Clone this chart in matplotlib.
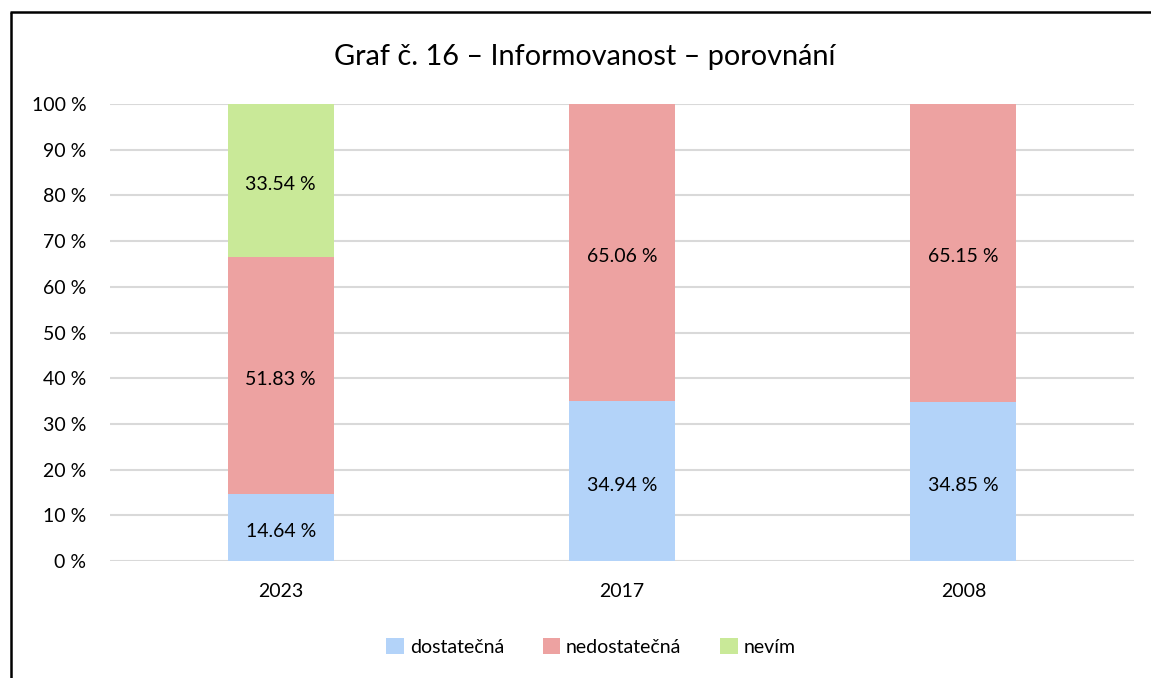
import matplotlib
matplotlib.use("Agg")
import matplotlib.pyplot as plt
from matplotlib.lines import Line2D
from matplotlib.patches import Patch
from matplotlib.transforms import offset_copy
import numpy as np

plt.rcParams['font.family'] = ['Lato', 'DejaVu Sans']

categories = ["2023", "2017", "2008"]
series_names = ["dostatečná", "nedostatečná", "nevím"]
dostatecna = [14.64, 34.94, 34.85]
nedostatecna = [51.83, 65.06, 65.15]
nevim = [33.54, 0.0, 0.0]
colors = ["#B3D3F9", "#EDA2A1", "#C9E998"]
title = "Graf č. 16 – Informovanost – porovnání"
yticks = [0, 10, 20, 30, 40, 50, 60, 70, 80, 90, 100]

W, H = 1151, 678
fig = plt.figure(figsize=(W / 100, H / 100), dpi=100)
ax = fig.add_axes([110 / W, 1 - 561 / H, (1134 - 110) / W, (561 - 104) / H])

lbl_trans = offset_copy(ax.transData, fig=fig, x=0, y=-4, units="dots")

x = np.arange(len(categories))
bottom = np.zeros(len(categories))
for vals, c, name in zip([dostatecna, nedostatecna, nevim], colors, series_names):
    vals = np.array(vals)
    ax.bar(x, vals, bottom=bottom, width=0.31, color=c, label=name, zorder=2)
    for xi, v, b in zip(x, vals, bottom):
        if v > 0:
            ax.text(xi, b + v / 2, f"{v:.2f} %", ha="center", va="center",
                    fontsize=14, color="#000000", zorder=3, transform=lbl_trans)
    bottom += vals

ax.set_xlim(-0.5, len(categories) - 0.5)
ax.set_ylim(0, 100)
ax.set_yticks(yticks)
ax.set_yticklabels([f"{t} %" for t in yticks], fontsize=14)
ax.set_xticks(x)
ax.set_xticklabels(categories, fontsize=14)
ax.tick_params(axis="both", length=0, colors="#000000")
ax.tick_params(axis="y", pad=17)
ax.tick_params(axis="x", pad=16)
ax.grid(axis="y", color="#D9D9D9", linewidth=1.5, zorder=0)
for s in ax.spines.values():
    s.set_visible(False)

fig.text(585 / W, 1 - 57 / H, title, ha="center", va="center", fontsize=20.8)

handles = [Patch(facecolor=c, edgecolor="none") for c in colors]
fig.legend(handles, series_names, loc="center", bbox_to_anchor=(591 / W, 1 - 647 / H),
           ncol=3, frameon=False, fontsize=14, handlelength=0.9, handleheight=0.9,
           handletextpad=0.3, columnspacing=2.0)

# partial outer frame (left and top edges)
fig.add_artist(Line2D([11 / W, 11 / W], [0, 1 - 11.5 / H], color="black", linewidth=1.8,
                      solid_capstyle="butt", transform=fig.transFigure))
fig.add_artist(Line2D([10 / W, 1.01], [1 - 12 / H, 1 - 12 / H], color="black", linewidth=1.8,
                      solid_capstyle="butt", transform=fig.transFigure))

fig.savefig("out.png", dpi=100, facecolor="white")
